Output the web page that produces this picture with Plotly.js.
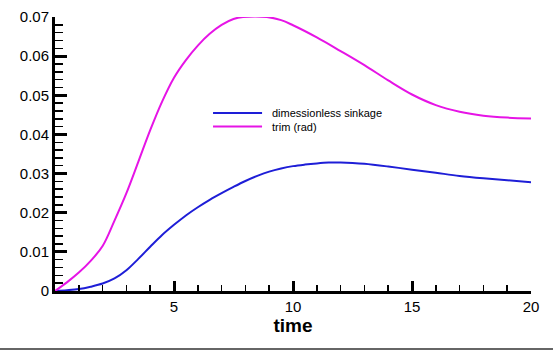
<!DOCTYPE html>
<html>
<head>
<meta charset="utf-8">
<script src="https://cdn.plot.ly/plotly-3.0.1.min.js"></script>
<style>html,body{margin:0;padding:0;background:#fff;}#chart{width:553px;height:354px;}</style>
</head>
<body>
<div id="chart"></div>
<script>
var timeTrim = [0, 0.5, 1.0, 1.5, 2.0, 2.5, 3.0, 3.5, 4.0, 4.5, 5.0, 5.5, 6.0, 6.5, 7.0, 7.5, 7.9, 8.9, 9.5, 10.0, 11.0, 12.0, 13.0, 14.0, 15.0, 16.0, 17.0, 18.0, 19.0, 20.0];
var trim = [0, 0.0022, 0.0047, 0.0077, 0.0115, 0.0180, 0.0250, 0.0330, 0.0411, 0.0484, 0.0545, 0.0590, 0.0627, 0.0657, 0.0680, 0.0695, 0.0700, 0.0700, 0.0692, 0.0679, 0.0648, 0.0613, 0.0577, 0.0538, 0.0502, 0.0475, 0.0458, 0.0448, 0.0443, 0.0441];
var timeSink = [0, 0.5, 1.0, 1.5, 2.0, 2.5, 3.0, 3.5, 4.0, 4.5, 5.0, 5.5, 6.0, 6.5, 7.0, 7.5, 8.0, 8.5, 9.0, 9.5, 10.0, 10.5, 11.0, 11.5, 12.0, 12.5, 13.0, 14.0, 15.0, 16.0, 17.0, 18.0, 19.0, 20.0];
var sinkage = [0, 0.0002, 0.0005, 0.0011, 0.0019, 0.0032, 0.0053, 0.0082, 0.0113, 0.0143, 0.0169, 0.0193, 0.0214, 0.0233, 0.0250, 0.0266, 0.0281, 0.0294, 0.0305, 0.0313, 0.0319, 0.0323, 0.0326, 0.0328, 0.0328, 0.0327, 0.0325, 0.0318, 0.0310, 0.0302, 0.0294, 0.0288, 0.0283, 0.0278];
var seriesNames = ['dimessionless sinkage', 'trim (rad)'];
var seriesColors = ['rgb(30,30,215)', 'rgb(230,20,230)'];
var xTitle = 'time';

var traces = [
  {x: timeSink, y: sinkage, name: seriesNames[0], mode: 'lines', showlegend: false, line: {color: seriesColors[0], width: 2, shape: 'spline', smoothing: 1}},
  {x: timeTrim, y: trim, name: seriesNames[1], mode: 'lines', showlegend: false, line: {color: seriesColors[1], width: 2, shape: 'spline', smoothing: 1}}
];

// manual legend (compact rows like the reference)
var legendRowsY = [0.650, 0.600];
var shapes = [{type: 'line', xref: 'paper', yref: 'paper', x0: -0.2, x1: 1.1, y0: -0.212, y1: -0.212, line: {color: '#666', width: 2}}];
var annotations = [];
seriesNames.forEach(function (n, i) {
  shapes.push({type: 'line', xref: 'paper', yref: 'paper', x0: 0.332, x1: 0.435, y0: legendRowsY[i], y1: legendRowsY[i], line: {color: seriesColors[i], width: 2}});
  annotations.push({xref: 'paper', yref: 'paper', x: 0.452, y: legendRowsY[i], xanchor: 'left', yanchor: 'middle', text: n, showarrow: false, font: {size: 11, color: '#000'}});
});

var layout = {
  width: 553, height: 354,
  margin: {l: 55, r: 22, t: 17, b: 63},
  paper_bgcolor: '#fff', plot_bgcolor: '#fff',
  font: {family: 'Liberation Sans, Arial, sans-serif', color: '#000'},
  xaxis: {
    range: [0, 20], showgrid: false, zeroline: false, showline: true, linecolor: '#000', linewidth: 3,
    ticks: 'inside', ticklen: 10, tickwidth: 3, tickcolor: '#000', tickvals: [5, 10, 15, 20],
    tickfont: {size: 15, color: '#000'},
    minor: {dtick: 1, ticks: 'inside', ticklen: 6, tickwidth: 1.5, tickcolor: '#000', showgrid: false},
    title: {text: '<b>' + xTitle + '</b>', font: {size: 19, color: '#000'}, standoff: 1}
  },
  yaxis: {
    range: [0, 0.07], showgrid: false, zeroline: false, showline: true, linecolor: '#000', linewidth: 3,
    ticks: 'inside', ticklen: 12, tickwidth: 3, tickcolor: '#000', dtick: 0.01, tick0: 0,
    tickfont: {size: 15, color: '#000'},
    minor: {dtick: 0.002, ticks: 'inside', ticklen: 8, tickwidth: 1.5, tickcolor: '#000', showgrid: false}
  },
  showlegend: false,
  shapes: shapes,
  annotations: annotations
};
Plotly.newPlot('chart', traces, layout, {displayModeBar: false, staticPlot: true});
</script>
</body>
</html>
